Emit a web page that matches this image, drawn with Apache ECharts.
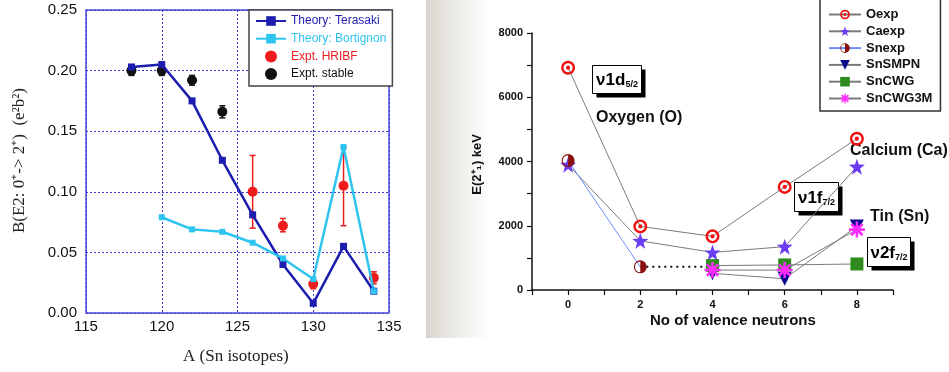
<!DOCTYPE html>
<html><head><meta charset="utf-8">
<script src="https://cdn.jsdelivr.net/npm/echarts@6/dist/echarts.min.js"></script>
<style>html,body{margin:0;padding:0;background:#fff}#c{width:949px;height:372px}</style>
</head><body><div id="c"></div>
<script>
// ---- Left chart data: B(E2) vs A ----
const teraX = [118, 120, 122, 124, 126, 128, 130, 132, 134];
const terasaki = [0.203, 0.205, 0.175, 0.126, 0.081, 0.040, 0.008, 0.055, 0.018];
const bortX = [120, 122, 124, 126, 128, 130, 132, 134];
const bortignon = [0.079, 0.069, 0.067, 0.058, 0.045, 0.028, 0.137, 0.018];
const hribfX = [126, 128, 130, 132, 134];
const hribf = [0.100, 0.072, 0.024, 0.105, 0.029];
const hribfLo = [0.070, 0.067, 0.020, 0.072, 0.024];
const hribfHi = [0.130, 0.078, 0.028, 0.137, 0.034];
const stableX = [118, 120, 122, 124];
const stable = [0.200, 0.200, 0.192, 0.166];
const stableLo = [0.196, 0.196, 0.188, 0.161];
const stableHi = [0.204, 0.204, 0.196, 0.171];

// ---- Right chart data: E(2+) vs valence neutrons ----
const neutrons = [0, 2, 4, 6, 8];
const oexp = [6920, 1980, 1670, 3210, 4710];
const caexp = [3900, 1530, 1170, 1350, 3840];
const snexpX = [0, 2];
const snexp = [4030, 720];
const dottedX = [2, 4];
const dotted = [720, 720];
const snTheoryX = [4, 6, 8];
const snSMPN = [520, 350, 1980];
const snCWG = [760, 780, 810];
const snCWG3M = [620, 620, 1880];

const zip = (xs, ys) => xs.map((x, i) => [x, ys[i]]);
const zip3 = (xs, a, b) => xs.map((x, i) => [x, a[i], b[i]]);

function errBars(color) {
  return function (params, api) {
    const x = api.value(0), lo = api.value(1), hi = api.value(2);
    const p1 = api.coord([x, lo]), p2 = api.coord([x, hi]);
    const w = 3;
    const st = { stroke: color, lineWidth: 1.5 };
    return { type: 'group', children: [
      { type: 'line', shape: { x1: p1[0], y1: p1[1], x2: p2[0], y2: p2[1] }, style: st },
      { type: 'line', shape: { x1: p1[0] - w, y1: p1[1], x2: p1[0] + w, y2: p1[1] }, style: st },
      { type: 'line', shape: { x1: p2[0] - w, y1: p2[1], x2: p2[0] + w, y2: p2[1] }, style: st }
    ]};
  };
}

const starPath = 'path://M0,-10L2.35,-3.24L9.51,-3.09L3.8,1.24L5.88,8.09L0,4L-5.88,8.09L-3.8,1.24L-9.51,-3.09L-2.35,-3.24Z';
const targetPath = 'path://M0,-10A10,10 0 1,1 0,10A10,10 0 1,1 0,-10Z M0,-6.5A6.5,6.5 0 1,0 0,6.5A6.5,6.5 0 1,0 0,-6.5Z M0,-3A3,3 0 1,1 0,3A3,3 0 1,1 0,-3Z';
const halfPath = 'path://M0,-10A10,10 0 1,1 0,10A10,10 0 1,1 0,-10Z M0,-8.3A8.3,8.3 0 0,0 0,8.3Z';
const asterPath = 'path://M-10,-1.6L10,-1.6L10,1.6L-10,1.6Z M-1.6,-10L1.6,-10L1.6,10L-1.6,10Z M-8.2,-5.9L-5.9,-8.2L8.2,5.9L5.9,8.2Z M-8.2,5.9L5.9,-8.2L8.2,-5.9L-5.9,8.2Z';

const sans = '"Liberation Sans", Arial, sans-serif';
const serif = '"Liberation Serif", "Times New Roman", serif';
const gray = '#7a7a7a';

function annBox(x, y, w, h, main, sub) {
  return { type: 'group', left: x, top: y, children: [
    { type: 'rect', shape: { x: 4, y: 4, width: w, height: h }, style: { fill: '#000' } },
    { type: 'rect', shape: { x: 0, y: 0, width: w, height: h }, style: { fill: '#fff', stroke: '#000', lineWidth: 1 } },
    { type: 'text', x: w / 2, y: h / 2 + 1, style: {
      text: '{a|' + main + '}{s|' + sub + '}', align: 'center', verticalAlign: 'middle',
      rich: { a: { fontFamily: sans, fontWeight: 'bold', fontSize: 17, fill: '#000' },
              s: { fontFamily: sans, fontWeight: 'bold', fontSize: 9, fill: '#000', padding: [9, 0, 0, 0] } } } }
  ]};
}

// decorative fading band on the left edge of the right panel (stepped shades)
function band() {
  const out = [];
  const n = 16, x0 = 426, w = 66;
  for (let i = 0; i < n; i++) {
    const t = i / (n - 1);
    const r = Math.round(216 + (255 - 216) * Math.pow(t, 0.8));
    const g = Math.round(212 + (255 - 212) * Math.pow(t, 0.8));
    const b = Math.round(204 + (255 - 204) * Math.pow(t, 0.8));
    out.push({ type: 'rect', z: -10, silent: true,
      shape: { x: x0 + i * w / n, y: 0, width: w / n + 0.6, height: 338 },
      style: { fill: 'rgb(' + r + ',' + g + ',' + b + ')' } });
  }
  return out;
}

const chart = echarts.init(document.getElementById('c'), null, { renderer: 'canvas' });
chart.setOption({
  animation: false,
  backgroundColor: '#fff',
  grid: [
    { left: 86, top: 10, width: 303, height: 303, show: true, borderColor: '#4a4ad8', borderWidth: 1.5, backgroundColor: 'transparent' },
    { left: 532, top: 33, width: 361, height: 257 }
  ],
  xAxis: [
    { gridIndex: 0, type: 'value', min: 115, max: 135, interval: 5,
      axisLine: { show: false }, axisTick: { show: false },
      axisLabel: { color: '#111', fontSize: 15, fontFamily: sans, margin: 6 },
      splitLine: { show: true, lineStyle: { color: '#3a3ad0', type: [2, 2], width: 1 } } },
    { gridIndex: 1, type: 'value', min: -1, max: 9, interval: 1,
      axisLine: { show: true, onZero: false, lineStyle: { color: '#111', width: 1.5 } },
      axisTick: { show: true, inside: false, length: 5, lineStyle: { color: '#111', width: 1.2 } },
      axisLabel: { color: '#111', fontSize: 11, fontWeight: 'bold', fontFamily: sans, margin: 9,
        formatter: v => (v % 2 === 0 ? String(v) : '') },
      splitLine: { show: false } }
  ],
  yAxis: [
    { gridIndex: 0, type: 'value', min: 0, max: 0.25, interval: 0.05,
      axisLine: { show: false }, axisTick: { show: false },
      axisLabel: { color: '#111', fontSize: 15, fontFamily: sans, margin: 9, formatter: v => v.toFixed(2) },
      splitLine: { show: true, lineStyle: { color: '#3a3ad0', type: [2, 2], width: 1 } } },
    { gridIndex: 1, type: 'value', min: 0, max: 8000, interval: 1000,
      axisLine: { show: true, onZero: false, lineStyle: { color: '#111', width: 1.5 } },
      axisTick: { show: true, inside: false, length: 5, lineStyle: { color: '#111', width: 1.2 } },
      axisLabel: { color: '#111', fontSize: 11, fontWeight: 'bold', fontFamily: sans, margin: 9,
        formatter: v => (v % 2000 === 0 ? String(v) : '') },
      splitLine: { show: false } }
  ],
  legend: [
    { orient: 'vertical', left: 249, top: 10, padding: [5, 6, 6, 6], itemGap: 5.7, itemWidth: 30, itemHeight: 12,
      backgroundColor: '#fff', borderColor: '#444', borderWidth: 1.5,
      textStyle: { fontSize: 12, fontFamily: sans },
      data: [
        { name: 'Theory: Terasaki', textStyle: { color: '#1c1cae' } },
        { name: 'Theory: Bortignon', textStyle: { color: '#2ec4f0' } },
        { name: 'Expt. HRIBF', textStyle: { color: '#ee1c1c' } },
        { name: 'Expt. stable', textStyle: { color: '#111' } }
      ] },
    { orient: 'vertical', left: 820, top: -2, padding: [10, 8, 6, 8], itemGap: 3.8, itemWidth: 32, itemHeight: 12,
      backgroundColor: '#fff', borderColor: '#333', borderWidth: 1.5,
      textStyle: { fontSize: 13, fontWeight: 'bold', fontFamily: sans, color: '#111' },
      data: ['Oexp', 'Caexp', 'Snexp', 'SnSMPN', 'SnCWG', 'SnCWG3M'] }
  ],
  graphic: band().concat([
    { type: 'text', left: 11, top: 88, rotation: Math.PI / 2, style: { text: 'B(E2: 0\u207A-> 2\u207A)  (e\u00B2b\u00B2)', font: '17px ' + serif, fill: '#222' } },
    { type: 'text', left: 183, top: 348, style: { text: 'A (Sn isotopes)', font: '17px ' + serif, fill: '#222' } },
    { type: 'text', left: 471, top: 134, rotation: Math.PI / 2, style: { text: 'E(2\u207A\u2081) keV', font: 'bold 13px ' + sans, fill: '#111' } },
    { type: 'text', left: 650, top: 313, style: { text: 'No of valence neutrons', font: 'bold 15px ' + sans, fill: '#111' } },
    { type: 'text', left: 596, top: 110, style: { text: 'Oxygen (O)', font: 'bold 16px ' + sans, fill: '#111' } },
    { type: 'text', left: 850, top: 143, style: { text: 'Calcium (Ca)', font: 'bold 16px ' + sans, fill: '#111' } },
    { type: 'text', left: 870, top: 209, style: { text: 'Tin (Sn)', font: 'bold 16px ' + sans, fill: '#111' } },
    annBox(592, 65, 49, 28, '\u03BD1d', '5/2'),
    annBox(794, 182, 44, 29, '\u03BD1f', '7/2'),
    annBox(867, 237, 43, 29, '\u03BD2f', '7/2')
  ]),
  series: [
    { name: 'Theory: Terasaki', type: 'line', xAxisIndex: 0, yAxisIndex: 0, data: zip(teraX, terasaki),
      symbol: 'rect', symbolSize: 7, lineStyle: { color: '#1c1cae', width: 2.5 }, itemStyle: { color: '#1c1cae' } },
    { name: 'Theory: Bortignon', type: 'line', xAxisIndex: 0, yAxisIndex: 0, data: zip(bortX, bortignon),
      symbol: 'rect', symbolSize: 6, lineStyle: { color: '#2ec4f0', width: 2.5 }, itemStyle: { color: '#2ec4f0' } },
    { name: 'hribfErr', type: 'custom', xAxisIndex: 0, yAxisIndex: 0, data: zip3(hribfX, hribfLo, hribfHi),
      encode: { x: 0, y: [1, 2] }, renderItem: errBars('#ee1c1c'), silent: true },
    { name: 'stableErr', type: 'custom', xAxisIndex: 0, yAxisIndex: 0, data: zip3(stableX, stableLo, stableHi),
      encode: { x: 0, y: [1, 2] }, renderItem: errBars('#111'), silent: true },
    { name: 'Expt. HRIBF', type: 'scatter', xAxisIndex: 0, yAxisIndex: 0, data: zip(hribfX, hribf),
      symbol: 'circle', symbolSize: 10, itemStyle: { color: '#ee1c1c', opacity: 1 } },
    { name: 'Expt. stable', type: 'scatter', xAxisIndex: 0, yAxisIndex: 0, data: zip(stableX, stable),
      symbol: 'circle', symbolSize: 10, itemStyle: { color: '#111', opacity: 1 } },

    { name: 'dotted', type: 'line', xAxisIndex: 1, yAxisIndex: 1, data: zip(dottedX, dotted), symbol: 'none',
      lineStyle: { color: '#111', width: 2, type: [2, 4] }, silent: true },
    { name: 'Oexp', type: 'line', xAxisIndex: 1, yAxisIndex: 1, data: zip(neutrons, oexp),
      symbol: targetPath, symbolSize: 14, lineStyle: { color: gray, width: 1 }, itemStyle: { color: '#ee1111' } },
    { name: 'Caexp', type: 'line', xAxisIndex: 1, yAxisIndex: 1, data: zip(neutrons, caexp),
      symbol: starPath, symbolSize: 16, lineStyle: { color: gray, width: 1 }, itemStyle: { color: '#6a3cf2' } },
    { name: 'Snexp', type: 'line', xAxisIndex: 1, yAxisIndex: 1, data: zip(snexpX, snexp),
      symbol: halfPath, symbolSize: 13, lineStyle: { color: '#6f8cff', width: 1 }, itemStyle: { color: '#8a1010' } },
    { name: 'SnSMPN', type: 'line', xAxisIndex: 1, yAxisIndex: 1, data: zip(snTheoryX, snSMPN),
      symbol: 'triangle', symbolRotate: 180, symbolSize: 14, lineStyle: { color: gray, width: 1 }, itemStyle: { color: '#0a0a8c' } },
    { name: 'SnCWG', type: 'line', xAxisIndex: 1, yAxisIndex: 1, data: zip(snTheoryX, snCWG),
      symbol: 'rect', symbolSize: 13, lineStyle: { color: gray, width: 1 }, itemStyle: { color: '#2e8b1e' } },
    { name: 'SnCWG3M', type: 'line', xAxisIndex: 1, yAxisIndex: 1, data: zip(snTheoryX, snCWG3M),
      symbol: asterPath, symbolSize: 16, lineStyle: { color: gray, width: 1 }, itemStyle: { color: '#ff2cff' } }
  ]
});
</script></body></html>
